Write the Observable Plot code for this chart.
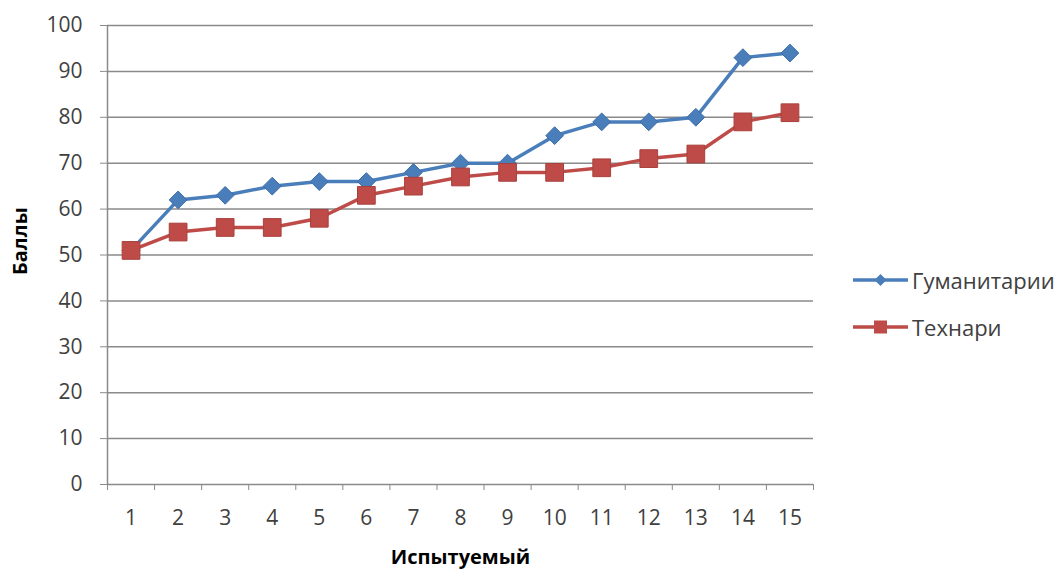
<!DOCTYPE html>
<html>
<head>
<meta charset="utf-8">
<script src="https://cdn.jsdelivr.net/npm/d3@7"></script>
<script src="https://cdn.jsdelivr.net/npm/@observablehq/plot@0.6"></script>
<style>
  html, body { margin: 0; padding: 0; background: #fff; }
  #wrap { position: relative; width: 1062px; height: 570px; font-family: "Open Sans", sans-serif; }
  #legend { position: absolute; left: 852px; top: 256px; font-size: 22px; color: #404040; }
  .item { display: flex; align-items: center; height: 47px; }
  .item svg { margin-right: 2px; }
</style>
</head>
<body>
<div id="wrap"></div>
<script>
const subjects = [1, 2, 3, 4, 5, 6, 7, 8, 9, 10, 11, 12, 13, 14, 15];
const humanities = [51, 62, 63, 65, 66, 66, 68, 70, 70, 76, 79, 79, 80, 93, 94];
const techies = [51, 55, 56, 56, 58, 63, 65, 67, 68, 68, 69, 71, 72, 79, 81];
const seriesNames = ["Гуманитарии", "Технари"];
const seriesColors = ["#4A7EBB", "#BE4B48"];
const yTicks = [0, 10, 20, 30, 40, 50, 60, 70, 80, 90, 100];
const xTitle = "Испытуемый";
const yTitle = "Баллы";

const data = [];
subjects.forEach((s, i) => {
  data.push({subject: s, value: humanities[i], series: seriesNames[0]});
  data.push({subject: s, value: techies[i], series: seriesNames[1]});
});
const hum = data.filter(d => d.series === seriesNames[0]);
const tech = data.filter(d => d.series === seriesNames[1]);
const boundaries = [...subjects.map(s => s - 0.5), subjects[subjects.length - 1] + 0.5];

const chart = Plot.plot({
  width: 1062,
  height: 570,
  marginLeft: 107,
  marginRight: 249,
  marginTop: 25,
  marginBottom: 86,
  style: {fontFamily: "Open Sans, sans-serif", fontSize: "21px", color: "#404040", background: "#fff"},
  x: {domain: [0.5, 15.5]},
  y: {domain: [0, 100]},
  marks: [
    Plot.ruleY(yTicks.filter(t => t > 0), {stroke: "#8a8a8a", strokeWidth: 1.5}),
    Plot.ruleY([0], {stroke: "#8a8a8a", strokeWidth: 1.5}),
    Plot.ruleX([0.5], {stroke: "#8a8a8a", strokeWidth: 1.5}),
    Plot.axisY({ticks: yTicks, tickSize: 7, tickPadding: 18, stroke: "#8a8a8a", label: null, fill: "#404040"}),
    Plot.axisX({ticks: subjects, tickSize: 0, tickPadding: 26, label: null, fill: "#404040", tickFormat: d => String(d)}),
    Plot.axisX({ticks: boundaries, tickSize: 6, tickFormat: () => "", stroke: "#8a8a8a", label: null}),
    Plot.line(hum, {x: "subject", y: "value", stroke: seriesColors[0], strokeWidth: 3.5}),
    Plot.dot(hum, {x: "subject", y: "value", symbol: "diamond2", r: 8, fill: seriesColors[0], stroke: "#3C6DA8", strokeWidth: 1}),
    Plot.line(tech, {x: "subject", y: "value", stroke: seriesColors[1], strokeWidth: 3.5}),
    Plot.dot(tech, {x: "subject", y: "value", symbol: "square", r: 10, fill: seriesColors[1], stroke: "#A8403D", strokeWidth: 1}),
    Plot.text([xTitle], {frameAnchor: "bottom", dy: 79, text: d => d, fontWeight: "bold", fontSize: 20, fill: "#000", lineAnchor: "bottom"}),
    Plot.text([yTitle], {frameAnchor: "left", dx: -87, rotate: -90, text: d => d, fontWeight: "bold", fontSize: 20, fill: "#000", dy: 20})
  ]
});

const wrap = document.getElementById("wrap");
wrap.appendChild(chart);

const legend = document.createElement("div");
legend.id = "legend";
const syms = ["diamond", "square"];
seriesNames.forEach((name, i) => {
  const item = document.createElement("div");
  item.className = "item";
  const svg = d3.create("svg").attr("width", 58).attr("height", 20);
  svg.append("line").attr("x1", 1).attr("x2", 56).attr("y1", 10).attr("y2", 10)
    .attr("stroke", seriesColors[i]).attr("stroke-width", 3.5);
  if (syms[i] === "diamond") {
    svg.append("path").attr("d", "M28.5,4 L34.5,10 L28.5,16 L22.5,10 Z").attr("fill", seriesColors[i]);
  } else {
    svg.append("rect").attr("x", 22).attr("y", 3.5).attr("width", 13).attr("height", 13).attr("fill", seriesColors[i]);
  }
  item.appendChild(svg.node());
  const span = document.createElement("span");
  span.textContent = name;
  item.appendChild(span);
  legend.appendChild(item);
});
wrap.appendChild(legend);
</script>
</body>
</html>
